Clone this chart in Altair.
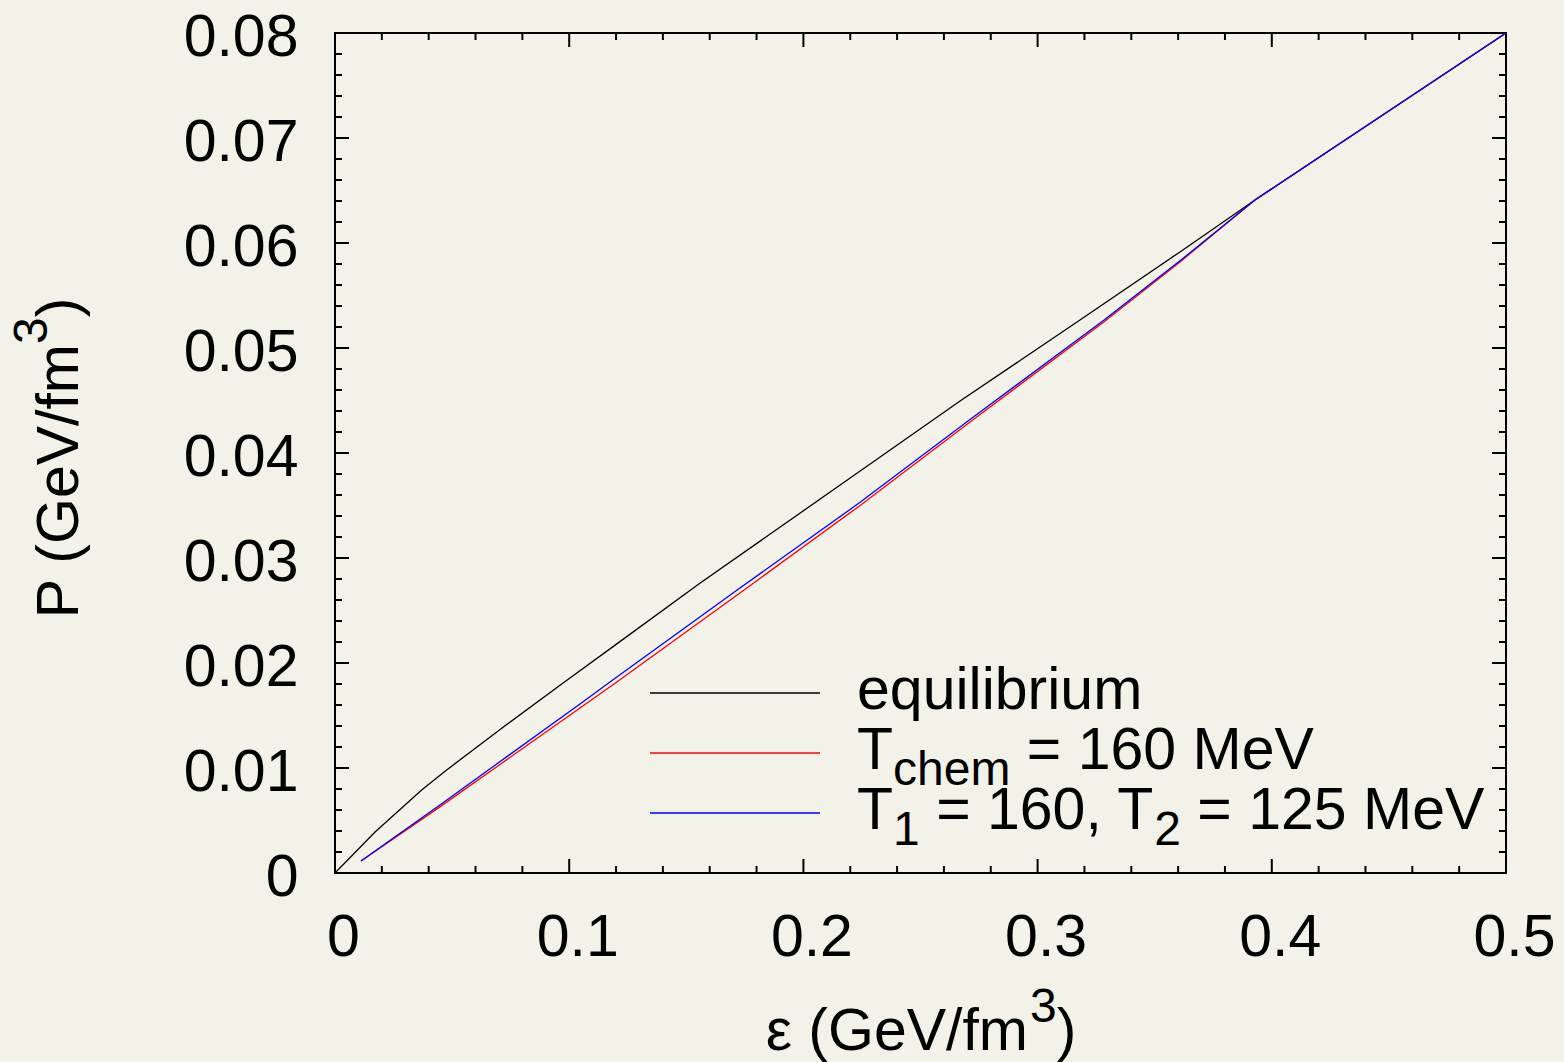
import altair as alt
import pandas as pd

FONT = "Liberation Sans"
BG = "#F2F2E8"

# Equation of state: pressure vs energy density (GeV/fm^3)
EPS_EQ = [0.0, 0.0171, 0.037, 0.047, 0.0719, 0.0968, 0.1196, 0.1558, 0.2186, 0.2669, 0.3181, 0.3608, 0.3928, 0.5]
P_EQ = [0.0, 0.0039, 0.0079, 0.0097, 0.0139, 0.0180, 0.0217, 0.0276, 0.0374, 0.04495, 0.05267, 0.05915, 0.0641, 0.08]

EPS_CHEM = [0.0111, 0.0448, 0.1046, 0.1196, 0.1729, 0.2242, 0.272, 0.3284, 0.3608, 0.3928, 0.5]
P_CHEM = [0.00114, 0.0063, 0.01571, 0.01807, 0.02667, 0.0350, 0.0431, 0.0525, 0.0582, 0.0641, 0.08]

EPS_TWO = [0.0111, 0.0448, 0.1046, 0.1196, 0.1729, 0.2242, 0.272, 0.3284, 0.3608, 0.3928, 0.5]
P_TWO = [0.00114, 0.00648, 0.0161, 0.01854, 0.02714, 0.0353, 0.04333, 0.05267, 0.0583, 0.0641, 0.08]

SERIES = ["equilibrium", "chem", "two"]
COLORS = ["#000000", "#FF0000", "#0000FF"]

X_TICKS = [0.0, 0.1, 0.2, 0.3, 0.4, 0.5]
X_TICK_LABELS = ["0", "0.1", "0.2", "0.3", "0.4", "0.5"]
Y_TICKS = [0.0, 0.01, 0.02, 0.03, 0.04, 0.05, 0.06, 0.07, 0.08]
Y_TICK_LABELS = ["0", "0.01", "0.02", "0.03", "0.04", "0.05", "0.06", "0.07", "0.08"]
X_MINOR = [round(i * 0.02, 2) for i in range(1, 25)]
Y_MINOR = [round(i * 0.002, 3) for i in range(1, 40)]

# legend entries as (text, role) runs; role "sub" is a subscript
LEGEND_RUNS = [
    [("equilibrium", "main")],
    [("T", "main"), ("chem", "sub"), (" = 160 MeV", "main")],
    [("T", "main"), ("1", "sub"), (" = 160, T", "main"), ("2", "sub"), (" = 125 MeV", "main")],
]

W, H = 1171, 840
MAIN_SIZE = 59
SUB_SIZE = 48
MAJOR_LEN, MINOR_LEN = 14, 7

# Arial/Liberation Sans advance widths (em units)
ADV = {" ": .278, "=": .584, ",": .278, ".": .278, "/": .278, "(": .333, ")": .333,
       "T": .611, "M": .833, "V": .667, "G": .778, "P": .667,
       "e": .556, "c": .5, "h": .556, "m": .833, "q": .556, "u": .556, "i": .222,
       "l": .222, "b": .556, "r": .333, "f": .278}
for d in "0123456789":
    ADV[d] = .556


def text_width(s, size):
    return sum(ADV.get(ch, .556) for ch in s) * size


def label_expr(values, labels):
    expr = "''"
    for v, lab in reversed(list(zip(values, labels))):
        expr = f"abs(datum.value - {v}) < 1e-9 ? '{lab}' : ({expr})"
    return expr


frames = []
for name, xs, ys in [("equilibrium", EPS_EQ, P_EQ), ("chem", EPS_CHEM, P_CHEM), ("two", EPS_TWO, P_TWO)]:
    frames.append(pd.DataFrame({"eps": xs, "P": ys, "series": name, "order": range(len(xs))}))
curves = pd.concat(frames, ignore_index=True)

x_scale = alt.Scale(domain=[0, 0.5], nice=False, zero=False)
y_scale = alt.Scale(domain=[0, 0.08], nice=False, zero=False)

x_axis = alt.Axis(values=X_TICKS, labelExpr=label_expr(X_TICKS, X_TICK_LABELS), title=None,
                  ticks=False, tickSize=0, domain=False, grid=False, labelFontSize=MAIN_SIZE,
                  labelFont=FONT, labelColor="black", labelPadding=35, labelOffset=8,
                  labelOverlap=False, labelFlush=False, labelBound=False)
y_axis = alt.Axis(values=Y_TICKS, labelExpr=label_expr(Y_TICKS, Y_TICK_LABELS), title=None,
                  ticks=False, tickSize=0, domain=False, grid=False, labelFontSize=MAIN_SIZE,
                  labelFont=FONT, labelColor="black", labelPadding=37, labelOffset=4,
                  labelOverlap=False, labelFlush=False, labelBound=False)

lines = alt.Chart(curves).mark_line(strokeWidth=1.3, clip=True).encode(
    x=alt.X("eps:Q", scale=x_scale, axis=x_axis),
    y=alt.Y("P:Q", scale=y_scale, axis=y_axis),
    color=alt.Color("series:N", scale=alt.Scale(domain=SERIES, range=COLORS), legend=None),
    detail="series:N",
    order="order:Q",
)
# draw order: black, red, blue on top
line_layers = [lines.transform_filter(alt.datum.series == s) for s in SERIES]

# inward ticks on all four sides
def x_ticks(vals, length):
    df = pd.DataFrame({"eps": vals})
    bottom = alt.Chart(df).mark_rule(color="black", strokeWidth=2).encode(
        x=alt.X("eps:Q", scale=x_scale), y=alt.value(H), y2=alt.value(H - length))
    top = alt.Chart(df).mark_rule(color="black", strokeWidth=2).encode(
        x=alt.X("eps:Q", scale=x_scale), y=alt.value(0), y2=alt.value(length))
    return [bottom, top]


def y_ticks(vals, length):
    df = pd.DataFrame({"P": vals})
    left = alt.Chart(df).mark_rule(color="black", strokeWidth=2).encode(
        y=alt.Y("P:Q", scale=y_scale), x=alt.value(0), x2=alt.value(length))
    right = alt.Chart(df).mark_rule(color="black", strokeWidth=2).encode(
        y=alt.Y("P:Q", scale=y_scale), x=alt.value(W), x2=alt.value(W - length))
    return [left, right]


tick_layers = (x_ticks(X_TICKS[1:-1], MAJOR_LEN) + x_ticks([v for v in X_MINOR if round(v * 10, 6) % 1 != 0], MINOR_LEN)
               + y_ticks(Y_TICKS[1:-1], MAJOR_LEN) + y_ticks([v for v in Y_MINOR if round(v * 100, 6) % 1 != 0], MINOR_LEN))

anchor = pd.DataFrame({"k": [0]})


def text_mark(text, x, y, size, align="left", angle=0):
    return alt.Chart(anchor).mark_text(
        text=text, font=FONT, fontSize=size, color="black", align=align,
        baseline="alphabetic", angle=angle,
    ).encode(x=alt.value(x), y=alt.value(y))


# legend: sample line plus text runs laid out left to right
legend_layers = []
LEG_LINE_X0, LEG_LINE_X1 = 315, 485
LEG_TEXT_X = 522
LEG_ROW0, LEG_ROW_STEP = 660, 60
for i, (runs, color) in enumerate(zip(LEGEND_RUNS, COLORS)):
    ly = LEG_ROW0 + i * LEG_ROW_STEP
    legend_layers.append(alt.Chart(anchor).mark_rule(color=color, strokeWidth=1.3).encode(
        x=alt.value(LEG_LINE_X0), x2=alt.value(LEG_LINE_X1), y=alt.value(ly)))
    cx = LEG_TEXT_X
    base = ly + 16
    for txt, role in runs:
        size = SUB_SIZE if role == "sub" else MAIN_SIZE
        yy = base + 16 if role == "sub" else base
        body = txt.lstrip(" ")
        cx += text_width(txt[: len(txt) - len(body)], size)  # leading blanks are collapsed in SVG
        legend_layers.append(text_mark(body, cx, yy, size))
        cx += text_width(body, size)

# axis titles with superscript 3
x_title_end = 693
x_title = [
    text_mark("ε (GeV/fm", x_title_end, 1017, MAIN_SIZE, align="right"),
    text_mark("3", x_title_end + 2, 989, SUB_SIZE),
    text_mark(")", x_title_end + 2 + text_width("3", SUB_SIZE), 1017, MAIN_SIZE),
]
y_title_end = 311
y_title = [
    text_mark("P (GeV/fm", -257, y_title_end, MAIN_SIZE, align="right", angle=270),
    text_mark("3", -288, y_title_end, SUB_SIZE, align="left", angle=270),
    text_mark(")", -257, y_title_end - text_width("3", SUB_SIZE), MAIN_SIZE, align="left", angle=270),
]

chart = alt.layer(*line_layers, *tick_layers, *legend_layers, *x_title, *y_title).properties(
    width=W, height=H,
    padding={"left": 335, "top": 33, "right": 58, "bottom": 189},
    autosize=alt.AutoSizeParams(type="none"),
    background=BG,
).configure_view(stroke="black", strokeWidth=2)

chart.save("out.html", embed_options={"renderer": "svg", "actions": False})
